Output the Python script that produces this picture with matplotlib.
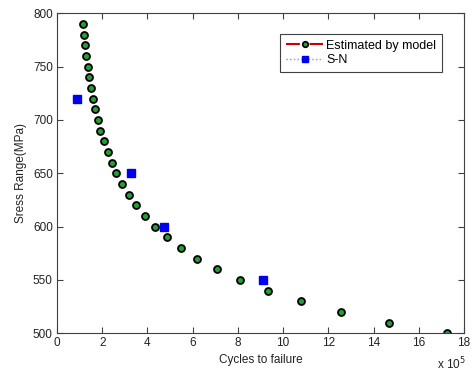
import matplotlib
matplotlib.use("Agg")
import matplotlib.pyplot as plt
from matplotlib.lines import Line2D

plt.rcParams['font.family'] = ['Liberation Sans', 'DejaVu Sans']

# model estimate (cycles in units of 1e5, stress in MPa)
model_cycles = [1.13, 1.18, 1.25, 1.30, 1.38, 1.43, 1.50, 1.59, 1.69, 1.80,
                1.92, 2.08, 2.26, 2.42, 2.62, 2.86, 3.17, 3.51, 3.88, 4.32,
                4.87, 5.49, 6.19, 7.08, 8.11, 9.32, 10.81, 12.55, 14.67, 17.26]
model_stress = [790, 780, 770, 760, 750, 740, 730, 720, 710, 700,
                690, 680, 670, 660, 650, 640, 630, 620, 610, 600,
                590, 580, 570, 560, 550, 540, 530, 520, 510, 500]

# S-N test points
sn_cycles = [0.88, 3.29, 4.72, 9.10]
sn_stress = [720, 650, 600, 550]

fig = plt.figure(figsize=(4.73, 3.71), dpi=100)
ax = fig.add_axes([0.1205, 0.1016, 0.8605, 0.8625])

ax.plot(model_cycles, model_stress, linestyle='none', marker='o', markersize=5,
        markerfacecolor='#22a032', markeredgecolor='black', markeredgewidth=1.3)
ax.plot(sn_cycles, sn_stress, linestyle='none', marker='s', markersize=5.5,
        markerfacecolor='#0000ee', markeredgecolor='#0000ee')

ax.set_xlim(0, 18)
ax.set_ylim(500, 800)
ax.set_xticks(range(0, 19, 2))
ax.set_yticks(range(500, 801, 50))

for s in ax.spines.values():
    s.set_color('#404040')
ax.tick_params(direction='in', top=True, right=True, length=4, labelsize=8.5,
               colors='#404040', labelcolor='#222222', pad=3)

ax.set_xlabel('Cycles to failure', fontsize=8.5, color='#222222', labelpad=3)
ax.set_ylabel('Sress Range(MPa)', fontsize=8.5, color='#222222', labelpad=4)
fig.text(0.955, 0.004, r'x 10$^5$', fontsize=8.5, color='#222222', ha='center')

handles = [
    Line2D([], [], color='#cc0000', linestyle=(0, (6.67, 4.67)), linewidth=1.5,
           marker='o', markersize=4, markerfacecolor='#22a032',
           markeredgecolor='black', markeredgewidth=1.2),
    Line2D([], [], color='#8888ff', linestyle=':', linewidth=1, marker='s',
           markersize=5, markerfacecolor='#0000ee', markeredgecolor='#0000ee'),
]
leg = ax.legend(handles, ['Estimated by model', 'S-N'], loc='upper right',
                bbox_to_anchor=(0.946, 0.935), fontsize=9, fancybox=False,
                framealpha=1, edgecolor='#404040', handlelength=3.0,
                handletextpad=0.25, borderpad=0.45, labelspacing=0.2,
                borderaxespad=0)
leg.get_frame().set_linewidth(0.8)

fig.savefig('out.png', dpi=100)
